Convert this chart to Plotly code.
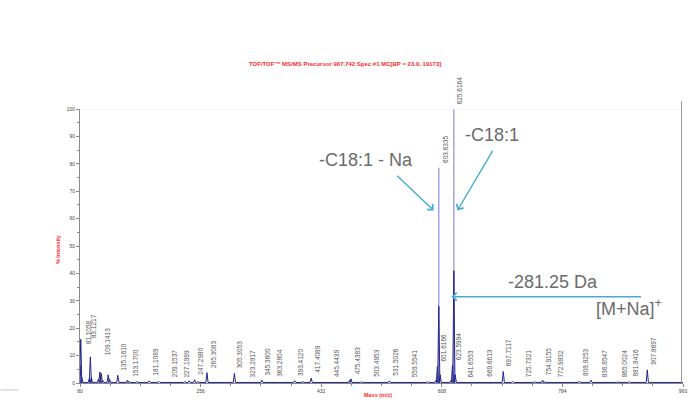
import plotly.graph_objects as go

# ---- spectrum data (m/z, % intensity) ----
# profile peaks (visible base of each ion signal)
prof_mz = [80.0, 81.1, 82.6, 93.5, 95.1, 96.6, 107.1, 109.1, 111.1, 113.1,
           121.1, 123.1, 135.2, 149.1, 151.1, 163.1, 181.1, 195.2, 233.2, 239.2,
           247.3, 252.2, 265.3, 305.3, 345.4, 393.4, 405.4, 417.4, 473.4, 475.4,
           490.4, 531.5, 587.5, 599.6, 601.6, 603.6, 605.6, 621.6, 623.6, 625.6,
           627.6, 697.7, 711.7, 743.8, 754.9, 756.9, 808.8, 825.8, 865.0, 881.8,
           907.9]
prof_int = [6.5, 16.0, 2.0, 1.5, 9.5, 2.0, 1.5, 4.0, 3.5, 1.0,
            3.0, 1.5, 2.8, 1.0, 0.7, 0.5, 0.8, 0.6, 0.5, 0.8,
            1.2, 0.5, 3.8, 3.5, 1.0, 0.8, 0.5, 1.8, 1.0, 1.5,
            0.4, 0.8, 0.5, 1.0, 6.0, 28.0, 3.0, 1.0, 6.5, 41.0,
            3.0, 4.2, 0.6, 0.5, 1.0, 0.6, 0.7, 1.0, 0.4, 0.5,
            4.8]

# apex of the two dominant fragment ions
apex_mz = [603.6335, 625.6164]
apex_int = [78.6, 100.0]

# annotated peak list
label_mz = [81.1058, 83.1217, 109.1413, 135.1610, 153.1700, 181.1089, 209.1537,
            227.1999, 247.2980, 265.3083, 305.3053, 323.2817, 345.3600, 363.2804,
            393.4120, 417.4089, 445.4439, 475.4383, 503.4953, 531.5026, 559.5541,
            601.6166, 603.6335, 623.5994, 625.6164, 641.6553, 669.6613, 697.7117,
            725.7321, 754.9155, 772.9832, 808.8253, 836.8547, 865.0024, 881.8416,
            907.8697]

x_ticks = [80, 256, 432, 608, 784, 960]

title_text = "TOF/TOF\u2122 MS/MS Precursor 907.742 Spec #1 MC[BP = 23.0, 19173]"

# ---- page geometry ----
W, H = 693, 400
ML, MR, MT, MB = 80, 6, 109, 15
PW, PH = W - ML - MR, H - MT - MB


def px_x(p):
    return (p - ML) / PW


def px_y(p):
    return (H - MB - p) / PH


# ---- build profile trace ----
hw = 1.6
base = 0.2
px, py = [80.0], [base]
for m, h in sorted(zip(prof_mz, prof_int)):
    px += [m - hw, m, m + hw]
    py += [base, h, base]
px.append(960.0)
py.append(base)

sx, sy = [], []
for m, h in zip(apex_mz, apex_int):
    sx += [m, m, None]
    sy += [0, h, None]

fig = go.Figure()
fig.add_trace(go.Scatter(x=sx, y=sy, mode="lines",
                         line=dict(color="#8e8ed9", width=1.2),
                         hoverinfo="skip", showlegend=False))
fig.add_trace(go.Scatter(x=px, y=py, mode="lines",
                         line=dict(color="#24248c", width=1),
                         hoverinfo="skip", showlegend=False))

# ---- peak labels ----
# labels on the crowded low-mass end are stacked / nudged by hand
label_level = {81.1058: 12.4, 83.1217: 14.6, 109.1413: 8.4}
label_nudge = {81.1058: 2.0, 83.1217: 5.6, 109.1413: 2.4}
all_mz = prof_mz + apex_mz
all_int = prof_int + apex_int
annotations = []
for m in label_mz:
    near = [h for mm, h in zip(all_mz, all_int) if abs(mm - m) <= 1.0]
    level = label_level.get(m, max(near + [0.3]))
    annotations.append(dict(
        x=m, y=level, xref="x", yref="y", text=f"{m:.4f}",
        textangle=-90, xanchor="left", yanchor="bottom",
        xshift=label_nudge.get(m, 0.5), yshift=3,
        showarrow=False, font=dict(family="Liberation Sans, Arial", size=6.5, color="#555555")))

# titles
annotations.append(dict(x=px_x(347), y=px_y(64), xref="paper", yref="paper",
                        xanchor="center", yanchor="middle",
                        text=f"<b>{title_text}</b>", showarrow=False,
                        font=dict(family="Liberation Sans, Arial", size=6, color="#ff2a2a")))
annotations.append(dict(x=px_x(58), y=px_y(250), xref="paper", yref="paper",
                        xanchor="center", yanchor="middle",
                        text="<b>% Intensity</b>", textangle=-90, showarrow=False,
                        font=dict(family="Liberation Sans, Arial", size=5.5, color="#ff2a2a")))
annotations.append(dict(x=px_x(380), y=px_y(397), xref="paper", yref="paper",
                        xanchor="center", yanchor="middle",
                        text="<b>Mass (m/z)</b>", showarrow=False,
                        font=dict(family="Liberation Sans, Arial", size=5.5, color="#ff2a2a")))

# fragment assignments
big = dict(family="Liberation Sans, Arial", size=18, color="#6b6b6b")
annotations.append(dict(x=px_x(368), y=px_y(160), xref="paper", yref="paper",
                        xanchor="center", yanchor="middle",
                        text="-C18:1 - Na", showarrow=False, font=big))
annotations.append(dict(x=px_x(495), y=px_y(135), xref="paper", yref="paper",
                        xanchor="center", yanchor="middle",
                        text="-C18:1", showarrow=False, font=big))
annotations.append(dict(x=px_x(556), y=px_y(283), xref="paper", yref="paper",
                        xanchor="center", yanchor="middle",
                        text="-281.25 Da", showarrow=False, font=big))
annotations.append(dict(x=px_x(597), y=px_y(309), xref="paper", yref="paper",
                        xanchor="left", yanchor="middle",
                        text="[M+Na]<sup>+</sup>", showarrow=False, font=big))

arrow = dict(showarrow=True, arrowhead=4, arrowsize=1.1, arrowwidth=1.4,
             arrowcolor="#46abcd", text="", xref="x", yref="y")
annotations.append(dict(x=apex_mz[0] - 7.5, y=63, ax=-38, ay=-36, **arrow))
annotations.append(dict(x=apex_mz[1] + 5.3, y=63, ax=36, ay=-61, **arrow))
annotations.append(dict(x=apex_mz[1] - 3.5, y=31.5, ax=191, ay=0, **arrow))

shapes = [
    dict(type="line", xref="x", yref="y", x0=80, x1=960, y0=100, y1=100,
         line=dict(color="#efefef", width=1)),
    dict(type="line", xref="paper", yref="paper", x0=px_x(685.5), x1=px_x(685.5),
         y0=0, y1=px_y(101), line=dict(color="#9a9a9a", width=1)),
    dict(type="line", xref="paper", yref="paper", x0=px_x(0), x1=px_x(18),
         y0=px_y(392), y1=px_y(392), line=dict(color="#c8c8c8", width=1)),
]

tick_font = dict(family="Liberation Sans, Arial", size=5, color="#444444")
fig.update_layout(
    width=W, height=H,
    margin=dict(l=ML, r=MR, t=MT, b=MB),
    paper_bgcolor="white", plot_bgcolor="white",
    showlegend=False,
    annotations=annotations,
    shapes=shapes,
    xaxis=dict(range=[80, 960], tickvals=x_ticks, ticktext=[str(v) for v in x_ticks],
               showgrid=False, zeroline=False, showline=True, linecolor="#8a8a8a",
               linewidth=1, ticks="outside", ticklen=3, tickcolor="#8a8a8a",
               tickfont=tick_font,
               minor=dict(dtick=44, tick0=80, ticks="outside", ticklen=2, tickcolor="#8a8a8a")),
    yaxis=dict(range=[0, 100], dtick=10, showgrid=False, zeroline=False,
               showline=True, linecolor="#8a8a8a", linewidth=1,
               ticks="outside", ticklen=3, tickcolor="#8a8a8a", tickfont=tick_font,
               minor=dict(dtick=5, ticks="outside", ticklen=2, tickcolor="#8a8a8a")),
)

fig.write_html("out.html")
